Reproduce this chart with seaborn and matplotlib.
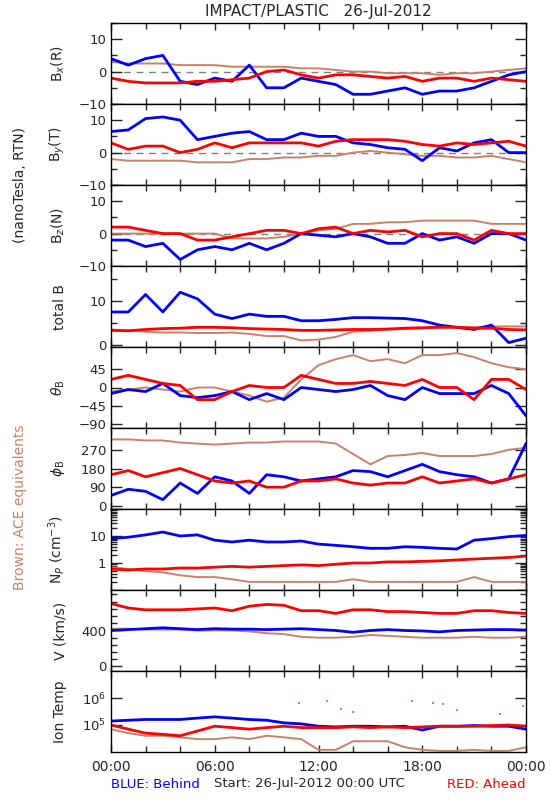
import numpy as np
import matplotlib
matplotlib.use("Agg")
import matplotlib.pyplot as plt
import matplotlib.ticker as mticker
import seaborn as sns

# hourly readings, 26-Jul-2012 00:00 .. 27-Jul 00:00
hours = list(range(25))

# B_x (R), nT
bx_behind = [4, 2, 4, 5, -3, -4, -2, -3, 2, -5, -5, -2, -3, -4, -7, -7, -6, -5, -7, -6, -6, -5, -3, -1, 0]
bx_ahead = [-2, -3, -3.5, -3.5, -3.5, -3, -3, -2.5, -2, 0, 0.5, -1, -2, -1, -1, -1.5, -2, -1.5, -3, -2, -2, -3, -2, -2.5, -3]
bx_ace = [3, 2.5, 2.5, 2.5, 2, 2, 2, 1.5, 1.5, 1.5, 1.5, 1, 1, 0.5, 0, 0, -0.5, -0.5, -0.5, -1, -0.5, -0.5, 0, 0.5, 1]

# B_y (T)
by_behind = [6.5, 7, 10.5, 11, 10, 4, 5, 6, 6.5, 4, 4, 6, 5, 5, 3, 2.5, 1.5, 1, -2.5, 1.5, 0.5, 3, 4, 0, 0]
by_ahead = [3, 1, 2, 2, 0, 1, 3, 1.5, 3, 3, 3, 3, 2, 3.5, 4, 4, 4, 3.5, 2.5, 2, 3, 2.5, 3, 3.5, 2]
by_ace = [-2, -2.5, -2.5, -2.5, -2.5, -3, -3, -3, -2, -2, -1.5, -1.5, -1, -1, 0, 0.5, 0, -0.5, -1, -1, -1.5, -1.5, -1, -2, -3]

# B_z (N)
bz_behind = [-2, -2, -4, -3, -8, -5, -4, -5, -3, -5, -3, 0, -0.5, -1, 0, -1, -3, -3, 0, -2, -1, -3, 0, 0, -2]
bz_ahead = [2, 2, 1, 0, 0, -2, -2, -1, 0, 1, 1, 0, 1.5, 2, 0, 1, 0.5, 1, -1, 0, 0, -2, 1, 0, 0]
bz_ace = [0, 0, 0, 0, 0, 0, 0, -1.5, -1.5, -1.5, -1, 0, 1, 1.5, 3, 3, 3.5, 3.5, 4, 4, 4, 4, 3, 3, 3]

# total B
bt_behind = [7.5, 7.5, 11.5, 7.5, 12, 10.5, 7, 6, 7, 6.5, 6.5, 5.5, 5.5, 5.8, 6.2, 6.2, 6.1, 6, 5.5, 4.5, 4, 3.5, 4.5, 0.5, 1.5]
bt_ahead = [3.3, 3.2, 3.5, 3.7, 3.8, 4, 4, 3.9, 3.7, 3.6, 3.5, 3.3, 3.3, 3.4, 3.5, 3.5, 3.6, 3.8, 3.9, 4, 4, 3.8, 3.8, 3.5, 3.4]
bt_ace = [3.5, 3.3, 3, 2.8, 2.8, 2.7, 2.7, 2.8, 2.5, 2, 2, 1, 1.2, 1.8, 3, 3.2, 3.5, 3.6, 3.8, 4, 4, 4, 4.2, 4.2, 4.2]

# theta_B, deg
th_behind = [-15, -5, -10, 10, -20, -25, -20, -10, -30, -15, -30, 0, -5, -10, -5, 5, -20, -30, 0, -15, -15, -15, 5, -15, -70]
th_ahead = [20, 30, 20, 10, 5, -30, -30, -10, 5, 0, 0, 30, 20, 10, 10, 15, 10, 5, 20, 0, 0, -30, 20, 20, -5]
th_ace = [-10, -5, 0, -5, -10, 0, 0, -10, -20, -35, -25, 20, 55, 70, 80, 65, 70, 60, 80, 80, 85, 75, 60, 50, 45]

# phi_B, deg
ph_behind = [50, 80, 70, 30, 110, 60, 140, 120, 60, 150, 140, 120, 130, 140, 170, 165, 140, 170, 200, 165, 150, 140, 110, 130, 300]
ph_ahead = [150, 170, 140, 160, 180, 150, 120, 110, 120, 90, 90, 120, 120, 130, 110, 100, 110, 110, 140, 110, 120, 130, 110, 130, 150]
ph_ace = [320, 320, 315, 315, 305, 300, 295, 300, 305, 305, 310, 310, 310, 300, 250, 200, 240, 245, 255, 240, 240, 240, 250, 270, 280]

# proton density, cm^-3
np_behind = [8, 9, 11, 14, 10, 11, 7, 6, 7, 6, 6, 6.5, 5, 4.5, 4, 3.5, 3.5, 4, 3.8, 3.5, 3.3, 7, 8, 9.5, 10.5]
np_ahead = [0.6, 0.55, 0.6, 0.6, 0.65, 0.65, 0.7, 0.75, 0.7, 0.75, 0.8, 0.85, 0.8, 0.9, 1.0, 1.0, 1.1, 1.1, 1.15, 1.2, 1.3, 1.4, 1.5, 1.6, 1.8]
np_ace = [0.7, 0.6, 0.5, 0.45, 0.35, 0.3, 0.3, 0.25, 0.2, 0.2, 0.2, 0.2, 0.2, 0.2, 0.25, 0.2, 0.2, 0.2, 0.2, 0.2, 0.2, 0.3, 0.2, 0.2, 0.2]

# bulk speed, km/s
v_behind = [400, 410, 420, 430, 420, 410, 420, 415, 415, 410, 415, 420, 410, 400, 380, 400, 410, 400, 395, 385, 400, 405, 410, 410, 405]
v_ahead = [700, 650, 630, 630, 630, 640, 650, 620, 670, 690, 680, 620, 620, 590, 630, 630, 610, 610, 600, 590, 590, 620, 620, 600, 590]
v_ace = [420, 420, 410, 410, 410, 400, 400, 400, 390, 370, 360, 330, 320, 320, 330, 350, 340, 330, 320, 320, 320, 330, 320, 320, 330]

# ion temperature, K
t_behind = [1.4e5, 1.5e5, 1.6e5, 1.6e5, 1.6e5, 1.8e5, 2.0e5, 1.8e5, 1.6e5, 1.5e5, 1.2e5, 1.1e5, 9e4, 8.5e4, 9e4, 9e4, 8.5e4, 9e4, 6.5e4, 9e4, 9e4, 9.5e4, 9e4, 9e4, 7e4]
t_ahead = [1e5, 7e4, 5e4, 4.5e4, 4e4, 6e4, 9e4, 8e4, 7e4, 8e4, 9e4, 8e4, 8e4, 8e4, 8.5e4, 8e4, 8.5e4, 8e4, 8.5e4, 9e4, 9e4, 9e4, 9.5e4, 1e5, 9e4]
t_ace = [7e4, 5e4, 4e4, 4e4, 3.5e4, 3e4, 3e4, 3.5e4, 3e4, 4e4, 3.5e4, 3e4, 1.2e4, 1.2e4, 2.5e4, 2.5e4, 2.5e4, 1.5e4, 1.2e4, 1.1e4, 1.1e4, 1.2e4, 1.1e4, 1.1e4, 1.5e4]
t_ace_spike_hr = [10.9, 12.5, 13.3, 14.0, 17.4, 18.6, 19.2, 20.0, 22.5, 23.8]
t_ace_spike = [6.5e5, 8e5, 4e5, 3e5, 8e5, 6.5e5, 6e5, 3.5e5, 2.5e5, 5e5]

BLUE = "#0000FF"
RED = "#FF0000"
BROWN = "#C8826A"

sns.set_style("ticks")
plt.rcParams['font.family'] = ['DejaVu Sans']

fig, axes = plt.subplots(9, 1, figsize=(5.5, 8), dpi=100, sharex=True)
fig.subplots_adjust(left=0.2018, right=0.9564, top=0.97125, bottom=0.06, hspace=0)

panels = [
    ("B$_x$(R)", bx_ace, bx_behind, bx_ahead),
    ("B$_y$(T)", by_ace, by_behind, by_ahead),
    ("B$_z$(N)", bz_ace, bz_behind, bz_ahead),
    ("total B", bt_ace, bt_behind, bt_ahead),
    (r"$\theta_\mathrm{B}$", th_ace, th_behind, th_ahead),
    (r"$\phi_\mathrm{B}$", ph_ace, ph_behind, ph_ahead),
    ("N$_P$ (cm$^{-3}$)", np_ace, np_behind, np_ahead),
    ("V (km/s)", v_ace, v_behind, v_ahead),
    ("Ion Temp", t_ace, t_behind, t_ahead),
]

for ax, (label, ace, behind, ahead) in zip(axes, panels):
    sns.lineplot(x=hours, y=ace, ax=ax, color=BROWN, linewidth=1.4, legend=False)
    sns.lineplot(x=hours, y=behind, ax=ax, color=BLUE, linewidth=2.0, legend=False)
    sns.lineplot(x=hours, y=ahead, ax=ax, color=RED, linewidth=2.0, legend=False)
    ax.set_ylabel(label, fontsize=10)
    ax.yaxis.set_label_coords(-0.105, 0.5)
    for s in ax.spines.values():
        s.set_linewidth(1.0)
        s.set_color("black")
    ax.tick_params(which="both", direction="in", top=True, right=True, labelsize=9.5, width=1)
    ax.tick_params(axis="y", which="major", length=8)
    ax.tick_params(axis="y", which="minor", length=4)
    ax.tick_params(axis="x", which="major", length=5)
    ax.tick_params(axis="x", which="minor", length=4)

# magnetic field components
for ax in axes[:3]:
    ax.axhline(0, color="gray", lw=1, ls=(0, (5, 4)), zorder=0)
    ax.set_ylim(-10, 15)
    ax.set_yticks([-10, 0, 10])
    ax.yaxis.set_minor_locator(mticker.MultipleLocator(5))

axes[3].set_ylim(-0.5, 18)
axes[3].set_yticks([0, 10])
axes[3].yaxis.set_minor_locator(mticker.MultipleLocator(5))

axes[4].set_ylim(-100, 100)
axes[4].set_yticks([-90, -45, 0, 45])

axes[5].set_ylim(-15, 375)
axes[5].set_yticks([0, 90, 180, 270])

ax = axes[6]
ax.set_yscale("log")
ax.set_ylim(0.1, 100)
ax.yaxis.set_major_locator(mticker.FixedLocator([0.1, 1, 10, 100]))
ax.yaxis.set_major_formatter(mticker.FixedFormatter(["", "1", "10", ""]))
ax.yaxis.set_minor_locator(mticker.LogLocator(subs=np.arange(2, 10)))
ax.yaxis.set_minor_formatter(mticker.NullFormatter())

axes[7].set_ylim(-50, 850)
axes[7].set_yticks([0, 400])
axes[7].yaxis.set_minor_locator(mticker.MultipleLocator(80))

ax = axes[8]
sns.scatterplot(x=t_ace_spike_hr, y=t_ace_spike, ax=ax, color=BROWN, s=3, marker="s", linewidth=0, legend=False)
ax.set_yscale("log")
ax.set_ylim(1e4, 1e7)
ax.yaxis.set_major_locator(mticker.FixedLocator([1e5, 1e6]))
ax.yaxis.set_major_formatter(mticker.FixedFormatter(["10$^5$", "10$^6$"]))
ax.yaxis.set_minor_locator(mticker.NullLocator())

ax.set_xlim(0, 24)
ax.set_xticks([0, 6, 12, 18, 24])
ax.set_xticklabels(["00:00", "06:00", "12:00", "18:00", "00:00"], fontsize=10)
ax.xaxis.set_minor_locator(mticker.MultipleLocator(2))
ax.tick_params(axis="x", pad=6)

fig.text(0.579, 0.986, "IMPACT/PLASTIC   26-Jul-2012", ha="center", va="center", fontsize=11)
fig.text(0.037, 0.769, "(nanoTesla, RTN)", rotation=90, ha="center", va="center", fontsize=10)
fig.text(0.037, 0.366, "Brown: ACE equivalents", rotation=90, ha="center", va="center", fontsize=10, color=BROWN)
fig.text(0.2018, 0.02, "BLUE: Behind", ha="left", va="center", fontsize=9.5, color=BLUE)
fig.text(0.389, 0.02, "Start: 26-Jul-2012 00:00 UTC", ha="left", va="center", fontsize=9.5)
fig.text(0.9564, 0.02, "RED: Ahead", ha="right", va="center", fontsize=9.5, color=RED)

fig.savefig("out.png", dpi=100, facecolor="white")
